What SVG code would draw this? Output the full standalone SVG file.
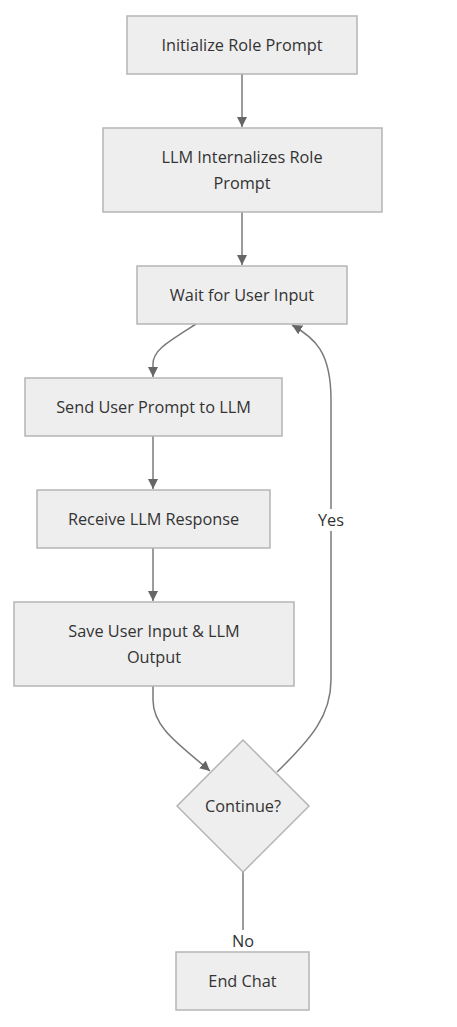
<svg xmlns="http://www.w3.org/2000/svg" width="457" height="1027" viewBox="0 0 457 1027">
<style>
.node rect, .node polygon { fill: #eeeeee; stroke: #b5b5b5; stroke-width: 1.5; }
.node text, .lbl text { font-family: "Trebuchet MS", "Open Sans", "Liberation Sans", sans-serif; font-size: 16.3px; fill: #333333; text-anchor: middle; dominant-baseline: central; }
.edges path { fill: none; stroke: #7a7a7a; stroke-width: 1.5; marker-end: url(#arr); }
.lbl rect { fill: #ffffff; }
</style>
<defs>
<marker id="arr" viewBox="0 0 10 10" refX="10" refY="5" markerWidth="10" markerHeight="10" markerUnits="userSpaceOnUse" orient="auto">
<path d="M0,0 L10,5 L0,10 z" fill="#666666"/>
</marker>
</defs>
<rect width="457" height="1027" fill="#ffffff"/>
<g class="edges">
<path d="M242,74 L242,127"/>
<path d="M242,212 L242,265"/>
<path d="M196,324 C168,342 153,350 153,364 L153,377"/>
<path d="M153,436 L153,489"/>
<path d="M153,548 L153,601"/>
<path d="M153,686 L153,700 C153,728 180,745 210,771"/>
<path d="M277,772 C312,738 331,715 331,680 L331,400 C331,352 315,338 292,325"/>
<path d="M243,872 L243,951"/>
</g>
<g class="lbl" id="label-yes"><rect x="316" y="509" width="30" height="22"/><text x="331" y="520">Yes</text></g>
<g class="lbl" id="label-no"><rect x="230" y="930" width="26" height="22"/><text x="243" y="941">No</text></g>
<g class="node" id="n1"><rect x="127" y="16" width="230" height="58"/><text x="242" y="45">Initialize Role Prompt</text></g>
<g class="node" id="n2"><rect x="103" y="128" width="279" height="84"/><text x="242" y="157">LLM Internalizes Role</text><text x="242" y="183">Prompt</text></g>
<g class="node" id="n3"><rect x="137" y="266" width="210" height="58"/><text x="242" y="295">Wait for User Input</text></g>
<g class="node" id="n4"><rect x="25" y="378" width="257" height="58"/><text x="153.5" y="407">Send User Prompt to LLM</text></g>
<g class="node" id="n5"><rect x="37" y="490" width="233" height="58"/><text x="153.5" y="519">Receive LLM Response</text></g>
<g class="node" id="n6"><rect x="14" y="602" width="280" height="84"/><text x="154" y="631">Save User Input &amp; LLM</text><text x="154" y="657">Output</text></g>
<g class="node" id="n7"><polygon points="243,740 309,806 243,872 177,806"/><text x="243" y="806">Continue?</text></g>
<g class="node" id="n8"><rect x="176" y="952" width="133" height="58"/><text x="242.5" y="981">End Chat</text></g>
</svg>
